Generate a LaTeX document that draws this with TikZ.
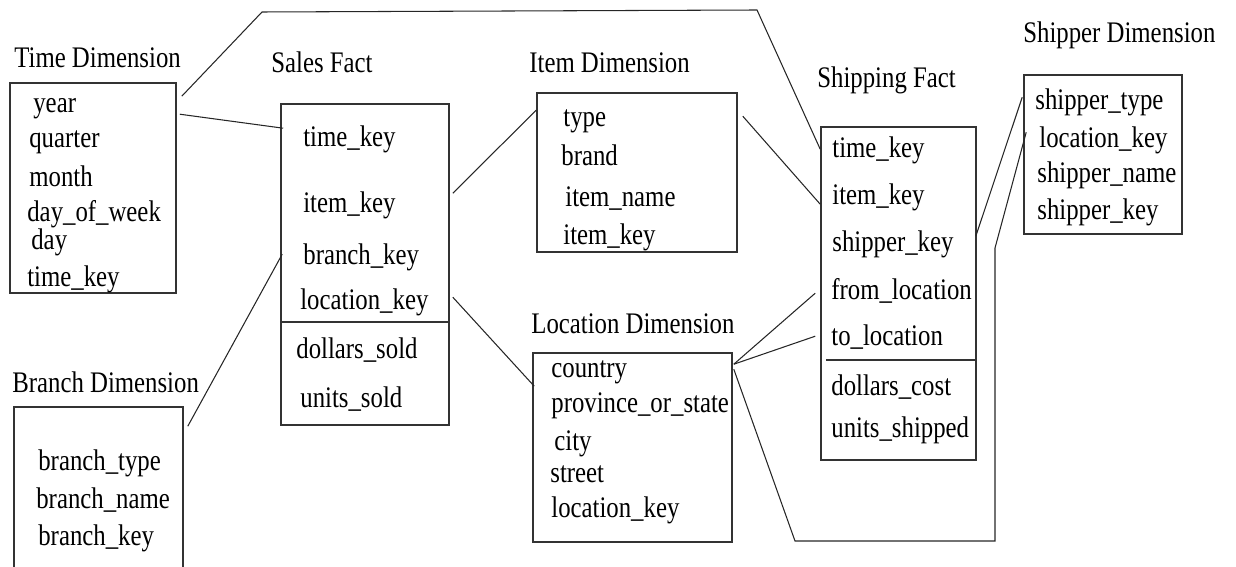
\documentclass[tikz,border=0pt]{standalone}
\usepackage{fontspec}
\setmainfont{Liberation Serif}[FakeStretch=0.83]
\usetikzlibrary{fit,calc}
\newcommand\tblfont{\fontsize{17}{20}\selectfont}
\begin{document}
\begin{tikzpicture}[x=0.02cm,y=-0.02cm,
    tbl/.style={draw=black!80,line width=0.9pt,inner sep=0pt},
    fld/.style={anchor=base west,inner sep=0pt,font=\tblfont},
    link/.style={draw=black!85,line width=0.6pt}]
  \useasboundingbox (0,0) rectangle (1236,567);
  \clip (0,0) rectangle (1236,567);

  % tables
  \node[tbl,fit={(10,83) (176,293)}] (tim) {};
  \node[tbl,fit={(281,104) (449,425)}] (sal) {};
  \node[tbl,fit={(537,93) (737,252)}] (itm) {};
  \node[tbl,fit={(821,127) (976,460)}] (shp) {};
  \node[tbl,fit={(1024,75) (1182,234)}] (spr) {};
  \node[tbl,fit={(14,407) (183,580)}] (brn) {};
  \node[tbl,fit={(533,353) (732,542)}] (loc) {};
  \draw[black!80,line width=0.9pt] (sal.north west) ++(0,219) -- ++(168,0);
  \draw[black!80,line width=0.9pt] (shp.north west) ++(6,234) -- ++(149,0);

  % titles
  \node[fld] (timttl) at (14,68) {Time Dimension};
  \node[fld] (salttl) at (271,73) {Sales Fact};
  \node[fld] (itmttl) at (529,73) {Item Dimension};
  \node[fld] (shpttl) at (817,88) {Shipping Fact};
  \node[fld] (sprttl) at (1023,43) {Shipper Dimension};
  \node[fld] (brnttl) at (12,392) {Branch Dimension};
  \node[fld] (locttl) at (531,333) {Location Dimension};

  % fields
  \node[fld] (tim1) at (33,113) {year};
  \node[fld] (tim2) at (29,148) {quarter};
  \node[fld] (tim3) at (29,187) {month};
  \node[fld] (tim4) at (27,222) {day\_of\_week};
  \node[fld] (tim5) at (31,250) {day};
  \node[fld] (tim6) at (27,287) {time\_key};

  \node[fld] (sal1) at (303,147) {time\_key};
  \node[fld] (sal2) at (303,213) {item\_key};
  \node[fld] (sal3) at (303,265) {branch\_key};
  \node[fld] (sal4) at (300,310) {location\_key};
  \node[fld] (sal5) at (296,358) {dollars\_sold};
  \node[fld] (sal6) at (300,407) {units\_sold};

  \node[fld] (itm1) at (563,127) {type};
  \node[fld] (itm2) at (561,166) {brand};
  \node[fld] (itm3) at (565,207) {item\_name};
  \node[fld] (itm4) at (563,245) {item\_key};

  \node[fld] (shp1) at (832,158) {time\_key};
  \node[fld] (shp2) at (832,205) {item\_key};
  \node[fld] (shp3) at (832,252) {shipper\_key};
  \node[fld] (shp4) at (831,299) {from\_location};
  \node[fld] (shp5) at (831,345) {to\_location};
  \node[fld] (shp6) at (831,395) {dollars\_cost};
  \node[fld] (shp7) at (831,437) {units\_shipped};

  \node[fld] (spr1) at (1035,110) {shipper\_type};
  \node[fld] (spr2) at (1039,148) {location\_key};
  \node[fld] (spr3) at (1037,183) {shipper\_name};
  \node[fld] (spr4) at (1037,220) {shipper\_key};

  \node[fld] (brn1) at (38,470) {branch\_type};
  \node[fld] (brn2) at (36,508) {branch\_name};
  \node[fld] (brn3) at (38,545) {branch\_key};

  \node[fld] (loc1) at (551,377) {country};
  \node[fld] (loc2) at (551,412) {province\_or\_state};
  \node[fld] (loc3) at (554,450) {city};
  \node[fld] (loc4) at (550,482) {street};
  \node[fld] (loc5) at (551,517) {location\_key};

  % bends of the long links
  \coordinate (topl) at (262,12);
  \coordinate (topr) at (757,10);
  \coordinate (botl) at (795,541);
  \coordinate (botr) at (995,541);
  \coordinate (upr) at (995,248);

  % links
  \draw[link] ($(tim.north east)+(5,14)$) -- (topl) -- (topr) -- ($(shp.north west)+(0,23)$);
  \draw[link] ($(tim.north east)+(3,32)$) -- ($(sal.north west)+(3,25)$);
  \draw[link] ($(brn.north east)+(4,20)$) -- ($(sal.north west)+(2,151)$);
  \draw[link] ($(sal.north east)+(3,90)$) -- ($(itm.north west)+(0,18)$);
  \draw[link] ($(itm.north east)+(5,24)$) -- ($(shp.north west)+(0,78)$);
  \draw[link] ($(sal.north east)+(3,194)$) -- ($(loc.north west)+(2,34)$);
  \draw[link] ($(loc.north east)+(1,12)$) -- ($(shp.north west)+(-5,167)$);
  \draw[link] ($(loc.north east)+(1,12)$) -- ($(shp.north west)+(-5,210)$);
  \draw[link] ($(loc.north east)+(1,17)$) -- (botl) -- (botr) -- (upr) -- ($(spr.north west)+(3,58)$);
  \draw[link] ($(shp.north east)+(-1,110)$) -- ($(spr.north west)+(-1,23)$);
\end{tikzpicture}
\end{document}
